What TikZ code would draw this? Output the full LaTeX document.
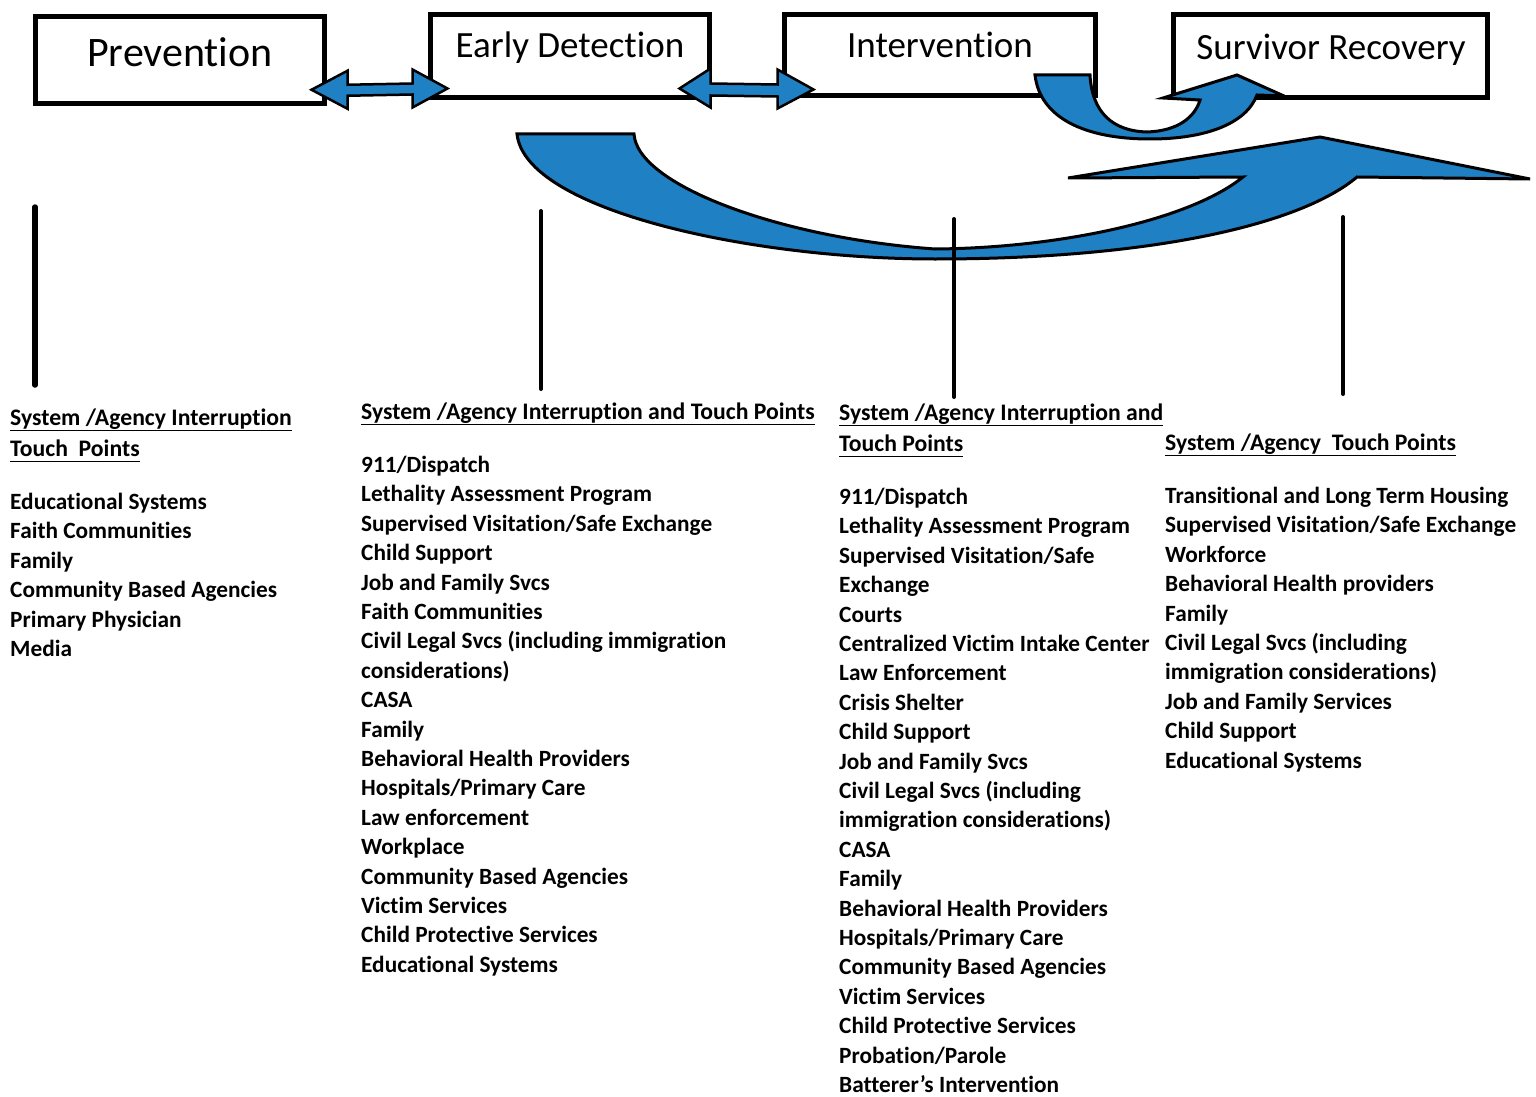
\documentclass[tikz,border=0pt]{standalone}
\usepackage{fontspec}
\setmainfont{Carlito}[Ligatures=NoCommon]
\usetikzlibrary{calc}
\definecolor{arrowblue}{RGB}{31,128,196}
\newcommand\hul[1]{\underline{#1\vphantom{y}}}
\begin{document}
\begin{tikzpicture}[x=1pt,y=-1pt,
  stagebox/.style={draw=black, line width=5pt, rectangle, inner sep=0pt, outer sep=0pt},
  stagetitle/.style={anchor=base, inner sep=0pt, font=\fontsize{37}{44}\selectfont},
  blockarrow/.style={fill=arrowblue, draw=black, line width=3pt, line join=miter},
  dblarrow/.style={fill=arrowblue, draw=black, line width=2.5pt, line join=miter},
  vline/.style={draw=black, line width=4pt, line cap=round},
  hdr/.style={anchor=base west, inner sep=0pt, font=\fontsize{23.7}{29}\selectfont\bfseries},
  item/.style={anchor=base west, inner sep=0pt, font=\fontsize{23.3}{29}\selectfont\bfseries}]
\useasboundingbox (0,0) rectangle (1536,1097);

% stage boxes
\node[stagebox, minimum width=289pt, minimum height=87pt] (prev)  at (180,60.25) {};
\node[stagebox, minimum width=279pt, minimum height=83pt] (early) at (570,56) {};
\node[stagebox, minimum width=311pt, minimum height=81pt] (inter) at (940,55) {};
\node[stagebox, minimum width=314pt, minimum height=83pt] (surv)  at (1330.5,56) {};

\node[stagetitle, font=\fontsize{42}{50}\selectfont] (tprev) at (180,67) {Prevention};
\node[stagetitle] (tearly) at (570,58) {Early Detection};
\node[stagetitle] (tinter) at (940,58) {Intervention};
\node[stagetitle] (tsurv)  at (1331,60) {Survivor Recovery};

% double arrows between boxes
\coordinate (d1a) at ($(prev.south east)+(-13,-14)$);
\coordinate (d1b) at ($(early.south west)+(17,-9)$);
\coordinate (d2a) at ($(early.south east)+(-30,-9)$);
\coordinate (d2b) at ($(inter.south west)+(29,-6)$);
\draw[dblarrow] (d1a) -- ++(36,-19) -- ++(0,14) -- ($(d1b)+(-35,-5)$) -- ++(0,-14)
  -- (d1b) -- ++(-35,19) -- ++(0,-13) -- ($(d1a)+(36,6)$) -- ++(0,13) -- cycle;
\draw[dblarrow] (d2a) -- ++(31,-20) -- ++(0,15) -- ($(d2b)+(-36,-5)$) -- ++(0,-15)
  -- (d2b) -- ++(-36,19) -- ++(0,-12) -- ($(d2a)+(31,7)$) -- ++(0,12) -- cycle;

% U-shaped arrow from Intervention to Survivor Recovery
\draw[blockarrow] (1035,75) -- (1090,75)
  .. controls (1092,112) and (1112,131) .. (1147,132)
  .. controls (1178,131) and (1195,117) .. (1200,100)
  -- (1163,98) -- (1237,75) -- (1284,96) -- (1257,95)
  .. controls (1246,124) and (1205,139) .. (1150,139)
  .. controls (1085,139) and (1040,118) .. (1035,75) -- cycle;

% large curved arrow
\draw[blockarrow] (517,134) -- (634,134)
  .. controls (637,185) and (780,238) .. (935,249)
  .. controls (1060,248) and (1190,220) .. (1243,177)
  -- (1068,178) -- (1320,137) -- (1530,179) -- (1357,177)
  .. controls (1300,225) and (1150,259) .. (935,259)
  .. controls (750,259) and (525,210) .. (517,134) -- cycle;

% vertical lines
\coordinate (v1t) at (35,207);  \coordinate (v1b) at (35,385);
\coordinate (v2t) at (541,211); \coordinate (v2b) at (541,389);
\coordinate (v3t) at (954,219); \coordinate (v3b) at (954,397);
\coordinate (v4t) at (1343,217); \coordinate (v4b) at (1343,394);
\draw[vline, line width=5.5pt] (v1t) -- (v1b);
\draw[vline] (v2t) -- (v2b);
\draw[vline] (v3t) -- (v3b);
\draw[vline] (v4t) -- (v4b);

% column 1
\node[hdr] (h1a) at (10,425) {\hul{System /Agency Interruption}};
\node[hdr] (h1b) at (10,456) {\hul{Touch\ \ Points}};
\foreach \t [count=\i from 0] in {Educational Systems, Faith Communities, Family,
  Community Based Agencies, Primary Physician, Media}
  \node[item] (c1-\i) at (10,509.5+29.4*\i) {\t};

% column 2
\node[hdr] (h2a) at (361,419) {\hul{System /Agency Interruption and Touch Points}};
\foreach \t [count=\i from 0] in {911/Dispatch, Lethality Assessment Program,
  Supervised Visitation/Safe Exchange, Child Support, Job and Family Svcs,
  Faith Communities, Civil Legal Svcs (including immigration, considerations),
  CASA, Family, Behavioral Health Providers, Hospitals/Primary Care,
  Law enforcement, Workplace, Community Based Agencies, Victim Services,
  Child Protective Services, Educational Systems}
  \node[item] (c2-\i) at (361,472.5+29.4*\i) {\t};

% column 3
\node[hdr] (h3a) at (839,420) {\hul{System /Agency Interruption and}};
\node[hdr] (h3b) at (839,451) {\hul{Touch Points}};
\foreach \t [count=\i from 0] in {911/Dispatch, Lethality Assessment Program,
  Supervised Visitation/Safe, Exchange, Courts, Centralized Victim Intake Center,
  Law Enforcement, Crisis Shelter, Child Support, Job and Family Svcs,
  Civil Legal Svcs (including, immigration considerations), CASA, Family,
  Behavioral Health Providers, Hospitals/Primary Care, Community Based Agencies,
  Victim Services, Child Protective Services, Probation/Parole,
  Batterer’s Intervention}
  \node[item] (c3-\i) at (839,504.5+29.4*\i) {\t};

% column 4
\node[hdr] (h4a) at (1165,450) {\hul{System /Agency\ \ Touch Points}};
\foreach \t [count=\i from 0] in {Transitional and Long Term Housing,
  Supervised Visitation/Safe Exchange, Workforce, Behavioral Health providers,
  Family, Civil Legal Svcs (including, immigration considerations),
  Job and Family Services, Child Support, Educational Systems}
  \node[item] (c4-\i) at (1165,503.5+29.4*\i) {\t};
\end{tikzpicture}
\end{document}
